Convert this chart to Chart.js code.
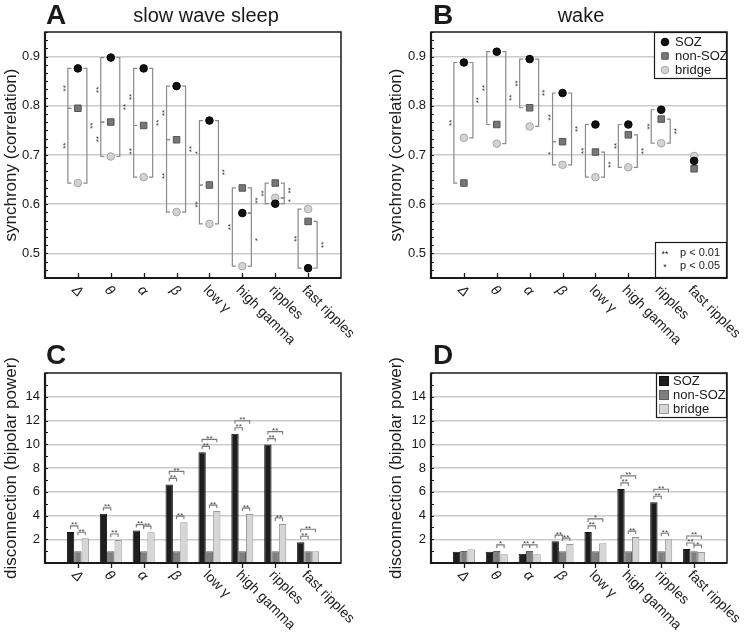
<!DOCTYPE html>
<html>
<head>
<meta charset="utf-8">
<script src="https://cdn.jsdelivr.net/npm/chart.js@4.4.0/dist/chart.umd.min.js"></script>
<style>
  body { margin: 0; background: #fff; }
  #wrap { position: relative; width: 747px; height: 636px; font-family: 'Liberation Sans', Arial, Helvetica, sans-serif; color: #1a1a1a; }
  #wrap canvas { position: absolute; left: 0; top: 0; }
  .lbl { position: absolute; font-weight: bold; font-size: 28px; line-height: 1; }
  .ttl { position: absolute; font-size: 20px; line-height: 1; width: 200px; text-align: center; }
</style>
</head>
<body>
<div id="wrap">
  <canvas id="cA" width="747" height="636"></canvas>
  <canvas id="cB" width="747" height="636"></canvas>
  <canvas id="cC" width="747" height="636"></canvas>
  <canvas id="cD" width="747" height="636"></canvas>
  <div class="lbl" style="left:46px;top:1px">A</div>
  <div class="lbl" style="left:433px;top:1px">B</div>
  <div class="lbl" style="left:46px;top:341px">C</div>
  <div class="lbl" style="left:433px;top:341px">D</div>
  <div class="ttl" style="left:106px;top:5px">slow wave sleep</div>
  <div class="ttl" style="left:481px;top:5px">wake</div>
</div>
<script>
// frequency bands (x categories) and groups
const bands = ['Δ', 'θ', 'α', 'β', 'low γ', 'high gamma', 'ripples', 'fast ripples'];
const groups = ['SOZ', 'non-SOZ', 'bridge'];
const syncTicks = [0.5, 0.6, 0.7, 0.8, 0.9];
const powerTicks = [2, 4, 6, 8, 10, 12, 14];

// A: synchrony, slow wave sleep
const swsSOZ    = [0.876, 0.898, 0.876, 0.840, 0.770, 0.582, 0.601, 0.470];
const swsNon    = [0.795, 0.767, 0.760, 0.731, 0.639, 0.633, 0.643, 0.565];
const swsBridge = [0.643, 0.697, 0.655, 0.584, 0.560, 0.474, 0.613, 0.590];

// B: synchrony, wake
const wakeSOZ    = [0.888, 0.910, 0.895, 0.826, 0.762, 0.762, 0.792, 0.688];
const wakeNon    = [0.643, 0.762, 0.796, 0.727, 0.706, 0.741, 0.773, 0.672];
const wakeBridge = [0.735, 0.723, 0.758, 0.680, 0.655, 0.675, 0.724, 0.698];

// C: disconnection, slow wave sleep
const swsPowSOZ    = [2.62, 4.14, 2.73, 6.62, 9.32, 10.88, 9.97, 1.75];
const swsPowNon    = [1, 1, 1, 1, 1, 1, 1, 1];
const swsPowBridge = [2.09, 1.94, 2.6, 3.44, 4.37, 4.12, 3.28, 1.0];

// D: disconnection, wake
const wakePowSOZ    = [0.95, 0.95, 0.78, 1.84, 2.62, 6.24, 5.12, 1.18];
const wakePowNon    = [1.02, 1.02, 1.02, 1.0, 1.0, 1.0, 1.0, 1.0];
const wakePowBridge = [1.16, 0.74, 0.74, 1.59, 1.66, 2.18, 2.0, 0.92];

// significance: [side, group a, group b, mark] (synchrony) / [group a, group b, mark] (power)
const swsSig = [
  [['L', 0, 1, '**'], ['L', 1, 2, '**'], ['R', 0, 2, '**']],
  [['L', 0, 1, '**'], ['L', 1, 2, '**'], ['R', 0, 2, '**']],
  [['L', 0, 1, '**'], ['L', 1, 2, '**'], ['R', 0, 2, '**']],
  [['L', 0, 1, '**'], ['L', 1, 2, '**'], ['R', 0, 2, '**']],
  [['L', 0, 1, '*'], ['L', 1, 2, '**'], ['R', 0, 2, '**']],
  [['L', 1, 2, '**'], ['R', 1, 0, '**'], ['R', 0, 2, '*']],
  [['L', 1, 0, '**'], ['R', 1, 2, '**'], ['R', 2, 0, '*']],
  [['L', 2, 0, '**'], ['R', 1, 0, '**']]
];
const wakeSig = [
  [['L', 0, 1, '**'], ['R', 0, 2, '**']],
  [['L', 0, 1, '**'], ['R', 0, 2, '**']],
  [['L', 0, 1, '**'], ['R', 0, 2, '**']],
  [['L', 0, 1, '**'], ['L', 1, 2, '*'], ['R', 0, 2, '**']],
  [['L', 0, 2, '**'], ['R', 1, 2, '**']],
  [['L', 0, 2, '**'], ['R', 1, 2, '**']],
  [['L', 0, 2, '**'], ['R', 1, 2, '**']],
  []
];
const swsPowSig = [
  [[0, 1, '**'], [1, 2, '**']],
  [[0, 1, '**'], [1, 2, '**']],
  [[0, 1, '**'], [1, 2, '**']],
  [[0, 1, '**'], [0, 2, '**'], [1, 2, '**']],
  [[0, 1, '**'], [0, 2, '**'], [1, 2, '**']],
  [[0, 1, '**'], [0, 2, '**'], [1, 2, '**']],
  [[0, 1, '**'], [0, 2, '**'], [1, 2, '**']],
  [[0, 1, '**'], [0, 2, '**']]
];
const wakePowSig = [
  [],
  [[1, 2, '*']],
  [[0, 1, '**'], [1, 2, '*']],
  [[0, 1, '**'], [1, 2, '**']],
  [[0, 1, '**'], [0, 2, '*']],
  [[0, 1, '**'], [0, 2, '**'], [1, 2, '**']],
  [[0, 1, '**'], [0, 2, '**'], [1, 2, '**']],
  [[0, 1, '**'], [0, 2, '**'], [1, 2, '*']]
];

const FONT = "'Liberation Sans', Arial, Helvetica, sans-serif";
const INK = '#1a1a1a';
const padLabels = ['', ...bands, ''];
const pad = arr => [null, ...arr, null];

// marker / bar styles
const markers = [
  { pointStyle: 'circle', pointRadius: 3.8, pointBackgroundColor: '#111', pointBorderColor: '#000', pointBorderWidth: 1, order: 1 },
  { pointStyle: 'rect', pointRadius: 4.6, pointBackgroundColor: '#777', pointBorderColor: '#555', pointBorderWidth: 1, order: 0 },
  { pointStyle: 'circle', pointRadius: 3.8, pointBackgroundColor: '#d3d3d3', pointBorderColor: '#a6a6a6', pointBorderWidth: 1, order: 2 }
];
const barCols = [
  { backgroundColor: '#1e1e1e', borderColor: '#111' },
  { backgroundColor: '#7e7e7e', borderColor: '#606060' },
  { backgroundColor: '#d6d6d6', borderColor: '#999' }
];

function drawSyncSig(chart, sig) {
  const { ctx, scales: { x, y } } = chart;
  const vals = chart.data.datasets.map(d => d.data);
  ctx.save();
  ctx.strokeStyle = '#8a8a8a';
  ctx.lineWidth = 1.2;
  ctx.fillStyle = '#333';
  ctx.font = '8px ' + FONT;
  ctx.textAlign = 'center';
  sig.forEach((list, i) => {
    const cx = x.getPixelForValue(i + 1);
    list.forEach(([side, p, q, mark]) => {
      const dir = side === 'L' ? -1 : 1;
      const lx = cx + (side === 'L' ? -10 : 9);
      const y1 = y.getPixelForValue(vals[p][i + 1]);
      const y2 = y.getPixelForValue(vals[q][i + 1]);
      ctx.beginPath();
      ctx.moveTo(lx - dir * 3.5, y1);
      ctx.lineTo(lx, y1);
      ctx.lineTo(lx, y2);
      ctx.lineTo(lx - dir * 3.5, y2);
      ctx.stroke();
      ctx.save();
      ctx.translate(lx + dir * 4, (y1 + y2) / 2);
      ctx.rotate(-Math.PI / 2);
      ctx.fillText(mark, 0, 4.6);
      ctx.restore();
    });
  });
  ctx.restore();
}

function drawBarSig(chart, sig) {
  const { ctx } = chart;
  const metas = [0, 1, 2].map(k => chart.getDatasetMeta(k).data);
  ctx.save();
  ctx.strokeStyle = '#7a7a7a';
  ctx.lineWidth = 1.1;
  ctx.fillStyle = '#444';
  ctx.font = '8px ' + FONT;
  ctx.textAlign = 'center';
  sig.forEach((list, i) => {
    const bars = metas.map(m => m[i + 1]);
    const placed = [];
    [...list].sort((u, v) => (u[1] - u[0]) - (v[1] - v[0])).forEach(([p, q, mark]) => {
      let top = Math.min(...bars.slice(p, q + 1).map(b => b.y)) - 6;
      placed.forEach(pl => { if (pl.p >= p && pl.q <= q) top = Math.min(top, pl.y - 7); });
      placed.push({ p, q, y: top });
      const x1 = bars[p].x, x2 = bars[q].x;
      ctx.beginPath();
      ctx.moveTo(x1, top + 3);
      ctx.lineTo(x1, top);
      ctx.lineTo(x2, top);
      ctx.lineTo(x2, top + 3);
      ctx.stroke();
      ctx.fillText(mark, (x1 + x2) / 2, top + 1.5);
    });
  });
  ctx.restore();
}

function drawFrame(chart, o) {
  const { ctx, chartArea: a, scales: { x, y } } = chart;
  ctx.save();
  ctx.strokeStyle = INK;
  // minor + major ticks on left axis, pointing inward
  ctx.lineWidth = 1;
  const n = Math.round((y.max - y.min) / o.minorStep);
  for (let k = 0; k <= n; k++) {
    const py = Math.round(y.getPixelForValue(y.min + k * o.minorStep)) + 0.5;
    ctx.beginPath();
    ctx.moveTo(a.left, py);
    ctx.lineTo(a.left + 3, py);
    ctx.stroke();
  }
  // category ticks on bottom axis
  ctx.lineWidth = 1.3;
  bands.forEach((b, i) => {
    const px = Math.round(x.getPixelForValue(i + 1)) + 0.5;
    ctx.beginPath();
    ctx.moveTo(px, a.bottom);
    ctx.lineTo(px, a.bottom + o.tickDir * 5);
    ctx.stroke();
  });
  // box
  ctx.lineWidth = 1.5;
  ctx.strokeRect(a.left, a.top, a.right - a.left, a.bottom - a.top);
  ctx.lineWidth = 2.2;
  ctx.beginPath();
  ctx.moveTo(a.left, a.top);
  ctx.lineTo(a.left, a.bottom);
  ctx.lineTo(a.right, a.bottom);
  ctx.stroke();
  // rotated category labels
  ctx.fillStyle = INK;
  ctx.textAlign = 'left';
  ctx.textBaseline = 'middle';
  bands.forEach((b, i) => {
    const px = x.getPixelForValue(i + 1);
    ctx.save();
    ctx.translate(px - 4, a.bottom + 10);
    ctx.rotate(Math.PI / 4);
    ctx.font = (b.length === 1 ? 'italic ' : '') + '14px ' + FONT;
    ctx.fillText(b, 0, 0);
    ctx.restore();
  });
  ctx.restore();
}

function box(ctx, x0, y0, w, h) {
  ctx.fillStyle = '#fff';
  ctx.fillRect(x0, y0, w, h);
  ctx.strokeStyle = INK;
  ctx.lineWidth = 1.2;
  ctx.strokeRect(x0 + 0.5, y0 + 0.5, w - 1, h - 1);
}

function syncLegend(chart) {
  const { ctx, chartArea: a } = chart;
  ctx.save();
  box(ctx, a.right - 73, a.top, 73, 47);
  ctx.font = '13px ' + FONT;
  ctx.textBaseline = 'middle';
  groups.forEach((g, k) => {
    const m = markers[k];
    const yy = a.top + 10 + k * 14;
    ctx.fillStyle = m.pointBackgroundColor;
    ctx.strokeStyle = m.pointBorderColor;
    ctx.lineWidth = m.pointBorderWidth;
    ctx.beginPath();
    if (m.pointStyle === 'rect') {
      const s = m.pointRadius * Math.SQRT1_2;
      ctx.rect(a.right - 62 - s, yy - s, 2 * s, 2 * s);
    } else {
      ctx.arc(a.right - 62, yy, m.pointRadius, 0, Math.PI * 2);
    }
    ctx.fill();
    ctx.stroke();
    ctx.fillStyle = INK;
    ctx.fillText(g, a.right - 52, yy + 0.5);
  });
  // significance key
  box(ctx, a.right - 72, a.bottom - 36, 72, 36);
  ctx.fillStyle = INK;
  [['**', 'p < 0.01'], ['*', 'p < 0.05']].forEach(([s, t], k) => {
    const yy = a.bottom - 25 + k * 13;
    ctx.textAlign = 'center';
    ctx.font = '9px ' + FONT;
    ctx.fillText(s, a.right - 62, yy + 2);
    ctx.textAlign = 'left';
    ctx.font = '11px ' + FONT;
    ctx.fillText(t, a.right - 47, yy);
  });
  ctx.restore();
}

function barLegend(chart) {
  const { ctx, chartArea: a } = chart;
  ctx.save();
  box(ctx, a.right - 71, a.top, 71, 45);
  ctx.font = '13px ' + FONT;
  ctx.textBaseline = 'middle';
  groups.forEach((g, k) => {
    const yy = a.top + 8 + k * 14;
    ctx.fillStyle = barCols[k].backgroundColor;
    ctx.strokeStyle = barCols[k].borderColor;
    ctx.lineWidth = 1;
    ctx.fillRect(a.right - 68, yy - 5, 10, 10);
    ctx.strokeRect(a.right - 67.5, yy - 4.5, 9, 9);
    ctx.fillStyle = INK;
    ctx.fillText(g, a.right - 54, yy + 0.5);
  });
  ctx.restore();
}

const panelPlugin = {
  id: 'panel',
  beforeDatasetsDraw(chart, args, o) {
    if (o.kind === 'sync') drawSyncSig(chart, o.sig);
  },
  afterDatasetsDraw(chart, args, o) {
    if (o.kind === 'bar') drawBarSig(chart, o.sig);
    drawFrame(chart, o);
    if (o.legend) o.legend(chart);
  }
};

function yAxis(min, max, ticks, fmt, width, title) {
  return {
    min: min, max: max,
    afterBuildTicks: s => { s.ticks = ticks.map(v => ({ value: v })); },
    afterFit: s => { s.width = width; },
    grid: { color: '#cbcbcb', lineWidth: 1.5, drawTicks: false },
    border: { display: false },
    ticks: { padding: 5, color: INK, font: { family: FONT, size: 13 }, callback: fmt },
    title: { display: true, text: title, color: INK, font: { family: FONT, size: 17 }, padding: { top: 1, bottom: 0 } }
  };
}

function syncChart(id, series, sig, padLeft, axisW, legend) {
  return new Chart(document.getElementById(id), {
    type: 'line',
    data: {
      labels: padLabels,
      datasets: series.map((s, k) => Object.assign({ label: groups[k], data: pad(s), showLine: false }, markers[k]))
    },
    options: {
      responsive: false, animation: false, events: [],
      layout: { padding: { left: padLeft, top: 32, right: 747 - (padLeft + axisW + 296), bottom: 358 } },
      scales: {
        x: { type: 'category', display: false, offset: false },
        y: yAxis(0.45, 0.95, syncTicks, v => Number(v).toFixed(1), axisW, 'synchrony (correlation)')
      },
      plugins: {
        legend: { display: false }, tooltip: { enabled: false },
        panel: { kind: 'sync', sig: sig, minorStep: 0.1 / 6, tickDir: -1, legend: legend }
      }
    },
    plugins: [panelPlugin]
  });
}

function powerChart(id, series, sig, padLeft, axisW, legend) {
  return new Chart(document.getElementById(id), {
    type: 'bar',
    data: {
      labels: padLabels,
      datasets: series.map((s, k) => Object.assign({
        label: groups[k], data: pad(s), borderWidth: 1, barPercentage: 1, categoryPercentage: 0.67
      }, barCols[k]))
    },
    options: {
      responsive: false, animation: false, events: [],
      layout: { padding: { left: padLeft, top: 373, right: 747 - (padLeft + axisW + 296), bottom: 73 } },
      scales: {
        x: { type: 'category', display: false, offset: false },
        y: yAxis(0, 16, powerTicks, v => String(v), axisW, 'disconnection (bipolar power)')
      },
      plugins: {
        legend: { display: false }, tooltip: { enabled: false },
        panel: { kind: 'bar', sig: sig, minorStep: 1, tickDir: 1, legend: legend }
      }
    },
    plugins: [panelPlugin]
  });
}

syncChart('cA', [swsSOZ, swsNon, swsBridge], swsSig, 0, 45, null);
syncChart('cB', [wakeSOZ, wakeNon, wakeBridge], wakeSig, 385, 46, syncLegend);
powerChart('cC', [swsPowSOZ, swsPowNon, swsPowBridge], swsPowSig, 0, 45, null);
powerChart('cD', [wakePowSOZ, wakePowNon, wakePowBridge], wakePowSig, 385, 46, barLegend);
</script>
</body>
</html>
